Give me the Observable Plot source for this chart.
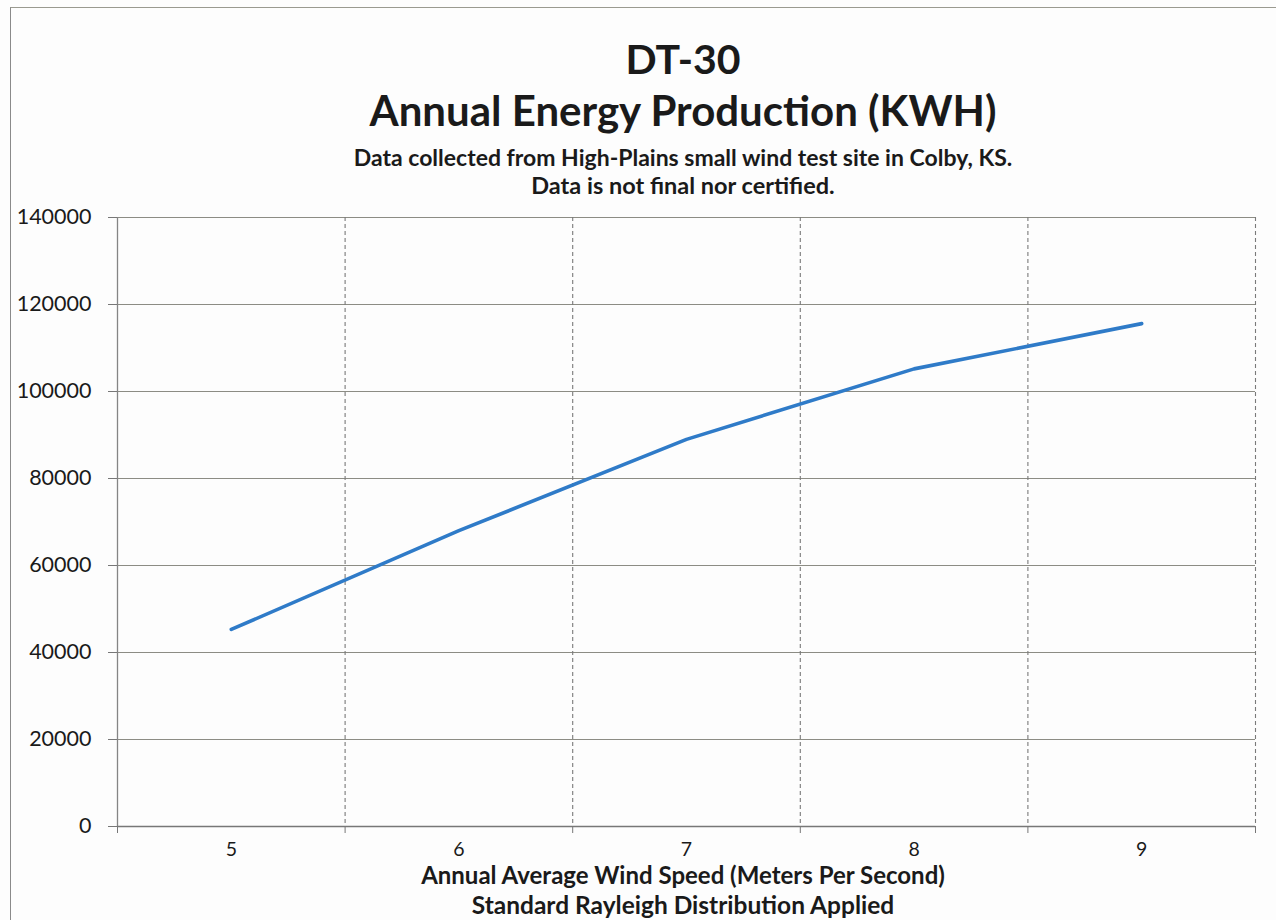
<!DOCTYPE html>
<html>
<head>
<meta charset="utf-8">
<script src="https://cdn.jsdelivr.net/npm/d3@7"></script>
<script src="https://cdn.jsdelivr.net/npm/@observablehq/plot@0.6"></script>
<style>
  html, body { margin: 0; padding: 0; background: #fdfdfd; }
  body { width: 1276px; height: 920px; position: relative; overflow: hidden; font-family: Lato, "Open Sans", sans-serif; color: #1a1a1a; }
  #frame { position: absolute; left: 10px; top: 7px; width: 1280px; height: 1000px; border-left: 1.5px solid #8a8a8a; border-top: 1.5px solid #9a9a90; }
  .t { position: absolute; left: 0; width: 1366px; text-align: center; font-weight: bold; white-space: nowrap; line-height: 1.1; }
  #chart { position: absolute; left: 0; top: 200px; }
</style>
</head>
<body>
<div id="frame"></div>
<div class="t" id="t1" style="top:36px; font-size:41px;">DT-30</div>
<div class="t" id="t2" style="top:87px; font-size:42px;">Annual Energy Production (KWH)</div>
<div class="t" id="t3" style="top:145px; font-size:23px;">Data collected from High-Plains small wind test site in Colby, KS.</div>
<div class="t" id="t4" style="top:173px; font-size:23.5px;">Data is not final nor certified.</div>
<div id="chart"></div>
<div class="t" id="x1" style="top:862px; font-size:24px;">Annual Average Wind Speed (Meters Per Second)</div>
<div class="t" id="x2" style="top:892px; font-size:24.5px;">Standard Rayleigh Distribution Applied</div>
<script>
const windSpeeds = [5, 6, 7, 8, 9];
const energyKWH = [45300, 68000, 89000, 105200, 115600];
const yTicks = [0, 20000, 40000, 60000, 80000, 100000, 120000, 140000];
const categoryBounds = [4.5, 5.5, 6.5, 7.5, 8.5, 9.5];

const data = windSpeeds.map((s, i) => ({speed: s, kwh: energyKWH[i]}));

const plot = Plot.plot({
  width: 1276,
  height: 680,
  marginTop: 17,
  marginBottom: 54,
  marginLeft: 117,
  marginRight: 21,
  style: {fontFamily: "Lato, 'Open Sans', sans-serif", background: "transparent"},
  x: {domain: [4.5, 9.5]},
  y: {domain: [0, 140000]},
  marks: [
    Plot.ruleY(yTicks.slice(1), {stroke: "#8c8c84", strokeWidth: 1.2}),
    Plot.ruleX(categoryBounds.slice(1), {stroke: "#7a7a7a", strokeWidth: 1.1, strokeDasharray: "4,3"}),
    Plot.ruleX([4.5], {stroke: "#858585", strokeWidth: 1.3}),
    Plot.ruleY([0], {stroke: "#777", strokeWidth: 1.4}),
    Plot.axisY({ticks: yTicks, tickSize: 9, tickPadding: 17, tickFormat: d => String(d), fontSize: 21.5, stroke: "#777", color: "#1a1a1a", label: null}),
    Plot.axisX({ticks: categoryBounds, tickSize: 7, tickFormat: () => "", stroke: "#777", label: null}),
    Plot.axisX({ticks: windSpeeds, tickSize: 0, tickPadding: 16, tickFormat: d => String(d), fontSize: 19.5, color: "#1a1a1a", label: null}),
    Plot.line(data, {x: "speed", y: "kwh", stroke: "#2f7bc8", strokeWidth: 3.6, strokeLinecap: "round", strokeLinejoin: "round"})
  ]
});
document.getElementById("chart").appendChild(plot);
</script>
</body>
</html>
